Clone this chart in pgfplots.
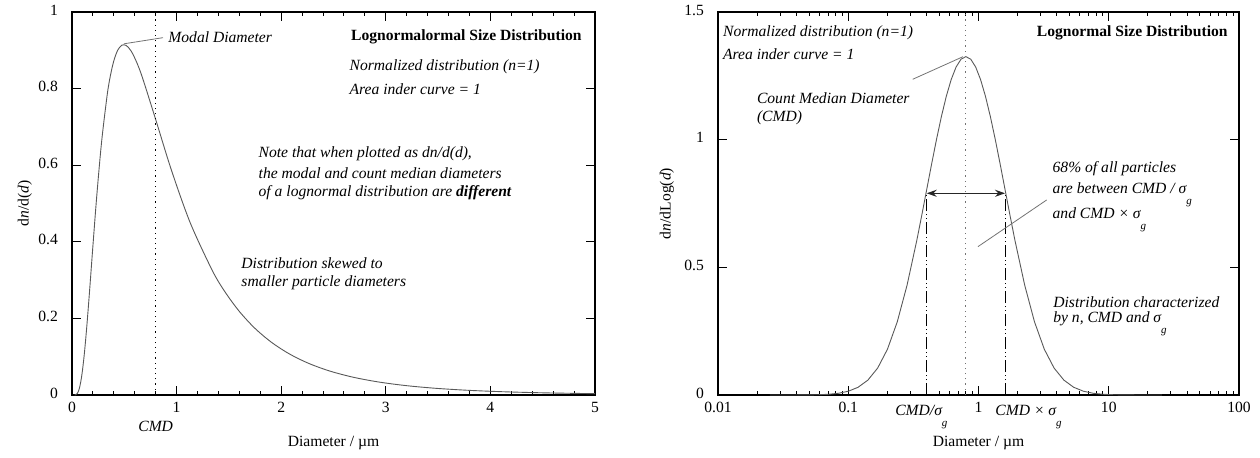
\documentclass[border=0pt]{standalone}
\usepackage{fontspec}
\setmainfont{Liberation Serif}
\usepackage{pgfplots}
\usepackage{pgfplotstable}
\pgfplotsset{compat=1.18}
\usetikzlibrary{arrows.meta}
\newcommand\af{\fontsize{7.8}{9}\selectfont}
\newcommand\tf{\fontsize{7.8}{9}\selectfont\itshape}
\newcommand\gsub{\smash{\raisebox{-5.5pt}{\fontsize{5.5}{6}\selectfont\itshape g}}}

\pgfplotstableread{
d f
0.025 0.0000858
0.035355 0.000652
0.05 0.003862
0.05946 0.008557
0.070711 0.017805
0.08409 0.034811
0.1 0.063938
0.118921 0.110318
0.141421 0.178814
0.168179 0.272274
0.2 0.389460
0.237841 0.523343
0.282843 0.660631
0.336359 0.783411
0.366802 0.833348
0.4 0.872727
0.436203 0.899793
0.475683 0.913324
0.518736 0.912675
0.565685 0.897893
0.616884 0.869651
0.672717 0.829243
0.8 0.719442
0.951366 0.586362
1.131371 0.448947
1.345434 0.322908
1.467206 0.267510
1.6 0.218182
1.744813 0.175191
1.902731 0.138489
2.074944 0.107779
2.262742 0.082579
2.467538 0.062290
2.690869 0.046257
2.934413 0.033819
3.2 0.024341
3.489626 0.017248
3.805463 0.012033
4.149888 0.008261
4.525483 0.005588
4.935075 0.003720
5.0 0.003493
}\leftdata

\pgfplotstableread{
d g
0.025 0.000005
0.035355 0.000053
0.05 0.000445
0.05946 0.001172
0.070711 0.002899
0.08409 0.006740
0.1 0.014722
0.118921 0.030208
0.141421 0.058228
0.168179 0.105437
0.2 0.179354
0.237841 0.286608
0.282843 0.430249
0.336359 0.606749
0.366802 0.703842
0.4 0.803812
0.436203 0.903747
0.475683 1.000360
0.518736 1.090129
0.565685 1.169540
0.616884 1.235279
0.672717 1.284487
0.733605 1.314949
0.8 1.325262
0.872406 1.314949
0.951366 1.284487
1.037472 1.235279
1.131371 1.169540
1.233769 1.090129
1.345434 1.000360
1.467206 0.903747
1.6 0.803812
1.744813 0.703842
1.902731 0.606749
2.262742 0.430249
2.690869 0.286608
3.2 0.179354
3.805463 0.105437
4.525483 0.058228
5.381737 0.030208
6.4 0.014722
7.610926 0.006740
9.050967 0.002899
10.763474 0.001172
12.8 0.000445
18.101934 0.000053
25.6 0.000005
}\rightdata

\pgfplotsset{
  mystyle/.style={
    scale only axis, clip=false,
    axis line style={line width=0.75pt},
    tick align=inside,
    xtick pos=both, ytick pos=both,
    xticklabel pos=lower, yticklabel pos=left,
    major tick length=4.5pt, minor tick length=2.2pt,
    tick style={black, line width=0.5pt},
    tick label style={font=\af},
    yticklabel style={xshift=-3.5pt, yshift=1pt},
    /pgf/number format/assume math mode=true,
  },
  curve/.style={draw=black!65, line width=0.45pt, no markers},
}

\begin{document}
\begin{tikzpicture}
\path[use as bounding box] (0,0) rectangle (630pt,228.5pt);

% ---------- left plot ----------
\begin{axis}[mystyle,
  at={(36pt,31pt)}, anchor=south west,
  width=261.5pt, height=191.5pt,
  xmin=0, xmax=5, ymin=0, ymax=1,
  xtick={0,1,2,3,4,5}, xticklabels={0,1,2,3,4,5},
  minor x tick num=4,
  ytick={0,0.2,0.4,0.6,0.8,1}, yticklabels={0,0.2,0.4,0.6,0.8,1},
]
\addplot[curve, smooth] table[x=d, y=f] {\leftdata};
\addplot[black, dotted, line width=0.6pt, no markers] coordinates {(0.8,0) (0.8,1)};
\draw[black!55, line width=0.4pt] (axis cs:0.497,0.917) -- (axis cs:0.87,0.933);
\node[anchor=west, inner sep=0, font=\tf] at (axis cs:0.918,0.935) {Modal Diameter};
\node[anchor=east, inner sep=0, font=\af\bfseries] at (axis cs:4.876,0.935) {Lognormalormal Size Distribution};
\node[anchor=west, inner sep=0, font=\tf] at (axis cs:2.651,0.857) {Normalized distribution (n=1)};
\node[anchor=west, inner sep=0, font=\tf] at (axis cs:2.651,0.799) {Area inder curve = 1};
\node[anchor=west, inner sep=0, font=\tf] at (axis cs:1.781,0.629) {Note that when plotted as dn/d(d),};
\node[anchor=west, inner sep=0, font=\tf] at (axis cs:1.781,0.579) {the modal and count median diameters};
\node[anchor=west, inner sep=0, font=\tf] at (axis cs:1.781,0.528) {of a lognormal distribution are \textbf{different}};
\node[anchor=west, inner sep=0, font=\tf] at (axis cs:1.616,0.345) {Distribution skewed to};
\node[anchor=west, inner sep=0, font=\tf] at (axis cs:1.616,0.293) {smaller particle diameters};
\node[inner sep=0, font=\tf, yshift=-15.9pt] at (axis cs:0.8,0) {CMD};
\node[inner sep=0, font=\af, yshift=-24pt] at (axis description cs:0.5,0) {Diameter / µm};
\node[inner sep=0, font=\af, rotate=90, xshift=0pt] at ([xshift=-23.5pt]axis description cs:0,0.5) {d\textit{n}/d(\textit{d})};
\end{axis}

% ---------- right plot ----------
\begin{axis}[mystyle,
  at={(359pt,31pt)}, anchor=south west,
  width=260.5pt, height=191.5pt,
  xmode=log, xmin=0.01, xmax=100, ymin=0, ymax=1.5,
  xtick={0.01,0.1,1,10,100}, xticklabels={0.01,0.1,1,10,100},
  minor xtick={0.02,0.03,0.04,0.05,0.06,0.07,0.08,0.09,0.2,0.3,0.4,0.5,0.6,0.7,0.8,0.9,2,3,4,5,6,7,8,9,20,30,40,50,60,70,80,90},
  ytick={0,0.5,1,1.5}, yticklabels={0,0.5,1,1.5},
]
\addplot[curve] table[x=d, y=g] {\rightdata};
\addplot[black!55, dotted, line width=0.6pt, no markers] coordinates {(0.8,0) (0.8,1.5)};
\addplot[black, line width=0.5pt, no markers, dash pattern=on 6pt off 1.5pt on 0.5pt off 1.5pt on 0.5pt off 1.5pt] coordinates {(0.4,0) (0.4,0.79)};
\addplot[black, line width=0.5pt, no markers, dash pattern=on 6pt off 1.5pt on 0.5pt off 1.5pt on 0.5pt off 1.5pt] coordinates {(1.6,0) (1.6,0.79)};
\draw[black!85, line width=0.7pt, {Stealth[length=5pt,width=3.5pt]}-{Stealth[length=5pt,width=3.5pt]}] (axis cs:0.4,0.79) -- (axis cs:1.6,0.79);
\draw[black!55, line width=0.4pt] (axis cs:0.76,1.325) -- (axis cs:0.3125,1.2365);
\draw[black!55, line width=0.4pt] (axis cs:3.34,0.764) -- (axis cs:0.99,0.581);
\node[anchor=west, inner sep=0, font=\tf] at (axis cs:0.01087,1.418) {Normalized distribution (n=1)};
\node[anchor=west, inner sep=0, font=\tf] at (axis cs:0.01087,1.334) {Area inder curve = 1};
\node[anchor=east, inner sep=0, font=\af\bfseries] at (axis cs:82.3,1.418) {Lognormal Size Distribution};
\node[anchor=west, inner sep=0, font=\tf] at (axis cs:0.0198,1.162) {Count Median Diameter};
\node[anchor=west, inner sep=0, font=\tf] at (axis cs:0.0198,1.084) {(CMD)};
\node[anchor=west, inner sep=0, font=\tf] at (axis cs:3.686,0.888) {68\% of all particles};
\node[anchor=west, inner sep=0, font=\tf] at (axis cs:3.686,0.810) {are between CMD / σ\gsub};
\node[anchor=west, inner sep=0, font=\tf] at (axis cs:3.686,0.712) {and CMD × σ\gsub};
\node[anchor=west, inner sep=0, font=\tf] at (axis cs:3.73,0.362) {Distribution characterized};
\node[anchor=west, inner sep=0, font=\tf] at (axis cs:3.73,0.297) {by n, CMD and σ\gsub};
\node[anchor=west, inner sep=0, font=\tf] at ([xshift=-15.9pt,yshift=-7.5pt]axis cs:0.4,0) {CMD/σ\gsub};
\node[anchor=west, inner sep=0, font=\tf] at ([xshift=-5pt,yshift=-7.5pt]axis cs:1.6,0) {CMD × σ\gsub};
\node[inner sep=0, font=\af, yshift=-24pt] at (axis description cs:0.5,0) {Diameter / µm};
\node[inner sep=0, font=\af, rotate=90] at ([xshift=-25.5pt]axis description cs:0,0.5) {d\textit{n}/dLog(\textit{d})};
\end{axis}
\end{tikzpicture}
\end{document}
